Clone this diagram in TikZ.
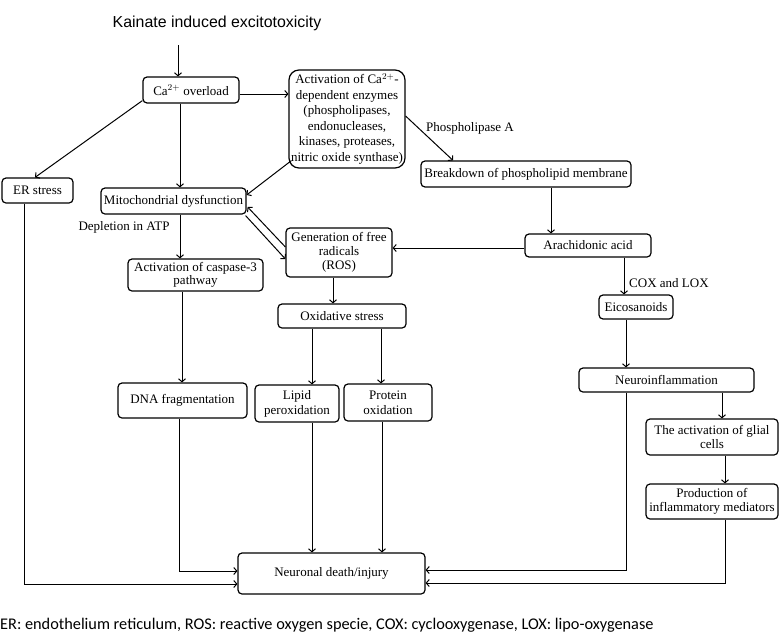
\documentclass[tikz,border=0pt]{standalone}
\usepackage{fontspec}
\setmainfont{Liberation Serif}
\newfontfamily\titlefont{Liberation Sans}
\newfontfamily\footfont{Carlito}
\usetikzlibrary{arrows.meta}
\begin{document}
\begin{tikzpicture}[x=1pt,y=-1pt,
  box/.style={draw,line width=1.2pt,rounded corners=4pt,inner sep=0pt,align=center,
    font=\fontsize{13}{15}\selectfont},
  lbl/.style={inner sep=0pt,font=\fontsize{13}{15}\selectfont},
  arr/.style={line width=1pt,-{Straight Barb[length=3pt,width=7pt]}},
  ln/.style={line width=1pt}]
\useasboundingbox (0,0) rectangle (779,635);
\fill[white] (0,0) rectangle (779,635);

\node[inner sep=0pt,font=\titlefont\fontsize{15.9}{18}\selectfont] (title) at (217,23) {Kainate induced excitotoxicity};
\coordinate (t0) at (178,45);

\node[box,minimum width=96pt,minimum height=26pt] (ca) at (191,90) {Ca$^{2+}$ overload};
\node[box,rounded corners=10pt,minimum width=116pt,minimum height=98pt,font=\fontsize{13}{15.5}\selectfont] (act) at (347,119)
  {Activation of Ca$^{2+}$-\\dependent enzymes\\(phospholipases,\\endonucleases,\\kinases, proteases,\\nitric oxide synthase)};
\node[box,minimum width=71pt,minimum height=25pt] (er) at (37.5,190.5) {ER stress};
\node[box,minimum width=145pt,minimum height=26pt] (mito) at (173.5,201) {Mitochondrial dysfunction};
\node[box,minimum width=135pt,minimum height=32pt,font=\fontsize{13}{13.5}\selectfont] (casp) at (195.5,275) {Activation of caspase-3\\pathway};
\node[box,minimum width=129pt,minimum height=35pt] (dna) at (182.5,400.5) {DNA fragmentation};
\node[box,minimum width=106pt,minimum height=49pt,font=\fontsize{13}{14}\selectfont] (ros) at (339,252.5) {Generation of free\\radicals\\(ROS)};
\node[box,minimum width=128pt,minimum height=24pt] (ox) at (342,316) {Oxidative stress};
\node[box,minimum width=84pt,minimum height=37pt] (lip) at (297,403.5) {Lipid\\peroxidation};
\node[box,minimum width=88pt,minimum height=37pt] (prot) at (388,402.5) {Protein\\oxidation};
\node[box,minimum width=210pt,minimum height=26pt] (brk) at (526,174) {Breakdown of phospholipid membrane};
\node[box,minimum width=126pt,minimum height=23pt] (ara) at (588,245.5) {Arachidonic acid};
\node[box,minimum width=74pt,minimum height=24pt] (eic) at (636,307) {Eicosanoids};
\node[box,minimum width=175pt,minimum height=24pt] (neu) at (666.5,380) {Neuroinflammation};
\node[box,minimum width=132pt,minimum height=36pt,font=\fontsize{13}{13.5}\selectfont] (gli) at (712,437) {The activation of glial\\cells};
\node[box,minimum width=132pt,minimum height=35pt,font=\fontsize{13}{13.5}\selectfont] (pro) at (712,501.5) {Production of\\inflammatory mediators};
\node[box,minimum width=187pt,minimum height=41pt] (nd) at (331.5,573.5) {Neuronal death/injury};

\node[lbl] (plA) at (470,128) {Phospholipase A};
\node[lbl] (atp) at (124,227) {Depletion in ATP};
\node[lbl,anchor=west] (cox) at (629,283) {COX and LOX};
\node[inner sep=0pt,anchor=west,font=\footfont\fontsize{16.3}{18}\selectfont] (foot) at (0,625)
  {ER: endothelium reticulum, ROS: reactive oxygen specie, COX: cyclooxygenase, LOX: lipo-oxygenase};

% connectors
\draw[arr] (t0) -- (t0 |- ca.north);
\coordinate (c1) at ([yshift=-4pt]ca.east);
\draw[arr] (c1) -- (c1 -| act.west);
\draw[arr] ([yshift=3pt]ca.south west) -- ([xshift=-2.5pt]er.north);
\coordinate (c2) at ([xshift=-11pt]ca.south);
\draw[arr] (c2) -- (c2 |- mito.north);
\draw[arr] ([shift={(3pt,8pt)}]act.south west) -- ([yshift=6pt]mito.east);
\draw[arr] ([shift={(-1pt,-1pt)}]mito.south east) -- ([yshift=-6.5pt]ros.west);
\draw[arr] ([yshift=5.5pt]ros.west) -- ([shift={(1pt,-6pt)}]mito.east);
\coordinate (m1) at ([xshift=6.5pt]mito.south);
\draw[arr] (m1) -- (m1 |- casp.north);
\coordinate (k1) at ([xshift=-13.5pt]casp.south);
\draw[arr] (k1) -- (k1 |- dna.north);
\draw[arr] ([xshift=-3.5pt]dna.south) |- ([yshift=2.5pt]nd.west);
\draw[arr] ([xshift=-13.5pt]er.south) |- ([yshift=-10.5pt]nd.west);
\coordinate (r1) at ([xshift=-6pt]ros.south);
\draw[arr] (r1) -- (r1 |- ox.north);
\coordinate (o1) at ([xshift=-30pt]ox.south);
\draw[arr] (o1) -- (o1 |- lip.north);
\coordinate (o2) at ([xshift=39pt]ox.south);
\draw[arr] (o2) -- (o2 |- prot.north);
\coordinate (l1) at ([xshift=15pt]lip.south);
\draw[arr] (l1) -- (l1 |- nd.north);
\coordinate (p1) at ([xshift=-6pt]prot.south);
\draw[arr] (p1) -- (p1 |- nd.north);
\draw[arr] ([yshift=3pt]act.east) -- ([xshift=-73pt]brk.north);
\coordinate (b1) at ([xshift=25pt]brk.south);
\draw[arr] (b1) -- (b1 |- ara.north);
\coordinate (a1) at ([yshift=-2.5pt]ara.west);
\draw[arr] (a1) -- (a1 -| ros.east);
\coordinate (a2) at ([xshift=36pt]ara.south);
\draw[arr] (a2) -- (a2 |- eic.north);
\coordinate (e1) at ([xshift=-10pt]eic.south);
\draw[arr] (e1) -- (e1 |- neu.north);
\coordinate (n1) at ([xshift=55.5pt]neu.south);
\draw[arr] (n1) -- (n1 |- gli.north);
\coordinate (g1) at ([xshift=13pt]gli.south);
\draw[arr] (g1) -- (g1 |- pro.north);
\draw[arr] ([xshift=-40.5pt]neu.south) |- ([yshift=3.5pt]nd.east);
\draw[arr] ([xshift=13pt]pro.south) |- ([yshift=-9.5pt]nd.east);
\end{tikzpicture}
\end{document}
